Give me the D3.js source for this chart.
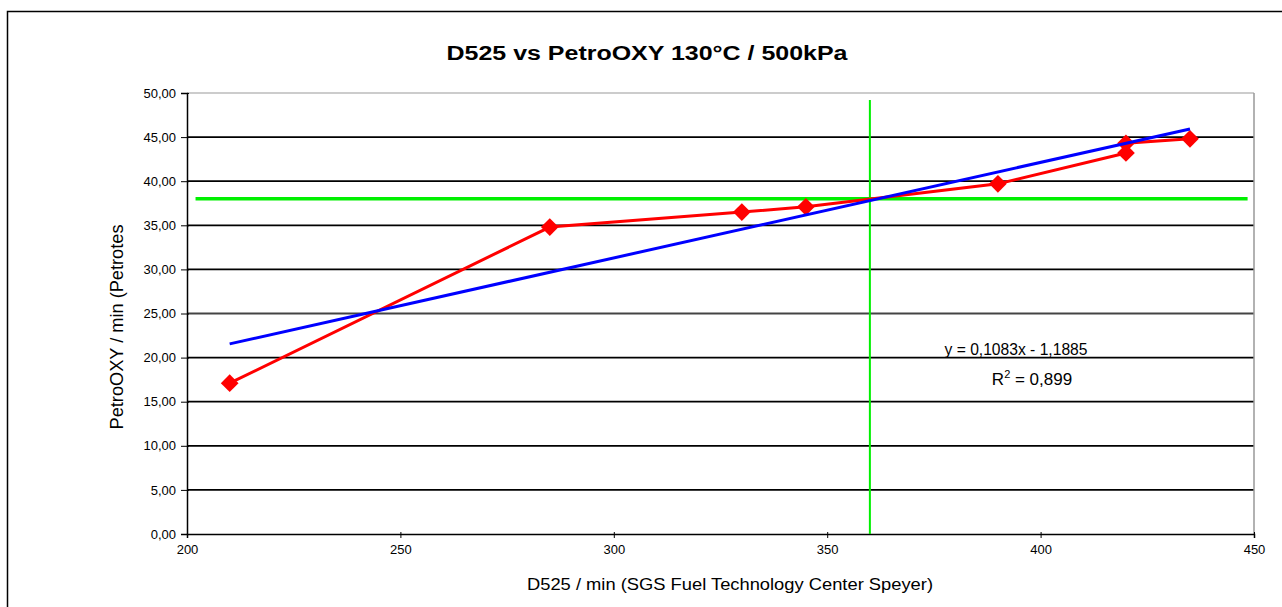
<!DOCTYPE html>
<html>
<head>
<meta charset="utf-8">
<script src="https://cdn.jsdelivr.net/npm/d3@7"></script>
<style>
  body { margin: 0; background: #fff; }
  svg text { font-family: "Liberation Sans", Arial, sans-serif; fill: #000; }
</style>
</head>
<body>
<div id="chart"></div>
<script>
// measured points (D525 minutes vs PetroOXY minutes)
const d525 = [210, 285, 330, 345, 390, 420, 420, 435];
const petroOxy = [17.1, 34.8, 36.5, 37.1, 39.7, 43.2, 44.3, 44.8];
const xTicks = [200, 250, 300, 350, 400, 450];
const yTicks = [0, 5, 10, 15, 20, 25, 30, 35, 40, 45, 50];
// linear trend y = 0.1083x - 1.1885
const slope = 0.1083, intercept = -1.1885;
const targetX = 360, targetY = 38.0;

const W = 1282, H = 607;
const margin = { top: 93, right: 28, bottom: 73, left: 187 },
    width = W - margin.left - margin.right,
    height = H - margin.top - margin.bottom;

const root = d3.select("#chart").append("svg")
    .attr("width", W)
    .attr("height", H);

// chart area frame (only top/left visible in the original)
root.append("rect")
    .attr("x", 7.5).attr("y", 11.5)
    .attr("width", W + 20).attr("height", H + 20)
    .attr("fill", "none").attr("stroke", "#000").attr("stroke-width", 1.5);

root.append("text")
    .attr("x", 647).attr("y", 60)
    .attr("text-anchor", "middle")
    .attr("textLength", 401).attr("lengthAdjust", "spacingAndGlyphs")
    .style("font-size", "20px").style("font-weight", "bold")
    .text("D525 vs PetroOXY 130°C / 500kPa");

const svg = root.append("g")
    .attr("transform", `translate(${margin.left},${margin.top})`);

const x = d3.scaleLinear().domain([200, 450]).range([0, width]);
const y = d3.scaleLinear().domain([0, 50]).range([height, 0]);

// horizontal gridlines
svg.selectAll(".grid")
    .data(yTicks.filter(t => t > 0))
    .enter().append("line")
    .attr("x1", 0).attr("x2", width)
    .attr("y1", d => y(d)).attr("y2", d => y(d))
    .attr("stroke", d => d === 50 ? "#999" : (d === 25 ? "#444" : "#000"))
    .attr("stroke-width", d => d === 50 ? 1 : 1.8);

// right frame of plot area
svg.append("line")
    .attr("x1", width).attr("x2", width)
    .attr("y1", 0).attr("y2", height)
    .attr("stroke", "#999").attr("stroke-width", 1.5);

// axes
const yAxis = svg.append("g")
    .call(d3.axisLeft(y).tickValues(yTicks).tickSize(6).tickFormat(d => d3.format(".2f")(d).replace(".", ",")));
const xAxis = svg.append("g")
    .attr("transform", `translate(0,${height})`)
    .call(d3.axisBottom(x).tickValues(xTicks).tickSize(4).tickFormat(d3.format("d")));

[yAxis, xAxis].forEach(a => {
    a.select(".domain").attr("stroke", "#000").attr("stroke-width", 1.5);
    a.selectAll(".tick line").attr("stroke", "#000");
    a.selectAll("text").style("font-size", "13px").style("font-family", "Liberation Sans, Arial, sans-serif");
});
yAxis.selectAll(".tick line").attr("x1", 2);
yAxis.selectAll("text").attr("x", -11).attr("dy", "0.32em");
xAxis.selectAll(".tick line").attr("y1", -2);
xAxis.selectAll("text").attr("y", 11);

// target lines (green)
svg.append("line")
    .attr("x1", x(202)).attr("x2", x(448.5))
    .attr("y1", y(targetY)).attr("y2", y(targetY))
    .attr("stroke", "#00f000").attr("stroke-width", 3.5);
svg.append("line")
    .attr("x1", x(targetX)).attr("x2", x(targetX))
    .attr("y1", y(49.2)).attr("y2", height)
    .attr("stroke", "#00f000").attr("stroke-width", 2);

// measured series
const pts = d525.map((v, i) => ({ x: v, y: petroOxy[i] }));
svg.append("path")
    .datum(pts)
    .attr("fill", "none")
    .attr("stroke", "#ff0000")
    .attr("stroke-width", 3)
    .attr("d", d3.line().x(d => x(d.x)).y(d => y(d.y)));

svg.selectAll(".pt")
    .data(pts)
    .enter().append("path")
    .attr("transform", d => `translate(${x(d.x)},${y(d.y)})`)
    .attr("d", d3.symbol(d3.symbolDiamond2, 200))
    .attr("fill", "#ff0000");

// trend line
const tx = d3.extent(d525);
svg.append("line")
    .attr("x1", x(tx[0])).attr("y1", y(slope * tx[0] + intercept))
    .attr("x2", x(tx[1])).attr("y2", y(slope * tx[1] + intercept))
    .attr("stroke", "#0000ff").attr("stroke-width", 3);

// equation label
const eq = svg.append("g").attr("transform", `translate(${1016 - margin.left},0)`);
eq.append("text")
    .attr("y", 355 - margin.top)
    .attr("text-anchor", "middle")
    .attr("textLength", 143).attr("lengthAdjust", "spacingAndGlyphs")
    .style("font-size", "16px")
    .text("y = 0,1083x - 1,1885");
const r2 = eq.append("text")
    .attr("x", 16)
    .attr("y", 385 - margin.top)
    .attr("text-anchor", "middle")
    .style("font-size", "17px");
r2.append("tspan").text("R");
r2.append("tspan").attr("dy", -7).style("font-size", "11px").text("2");
r2.append("tspan").attr("dy", 7).text(" = 0,899");

// axis titles
root.append("text")
    .attr("x", 730).attr("y", 590)
    .attr("text-anchor", "middle")
    .attr("textLength", 406).attr("lengthAdjust", "spacingAndGlyphs")
    .style("font-size", "17px")
    .text("D525 / min (SGS Fuel Technology Center Speyer)");

root.append("text")
    .attr("transform", "translate(123,327) rotate(-90)")
    .attr("text-anchor", "middle")
    .attr("textLength", 205).attr("lengthAdjust", "spacingAndGlyphs")
    .style("font-size", "18px")
    .text("PetroOXY / min (Petrotes");
</script>
</body>
</html>
